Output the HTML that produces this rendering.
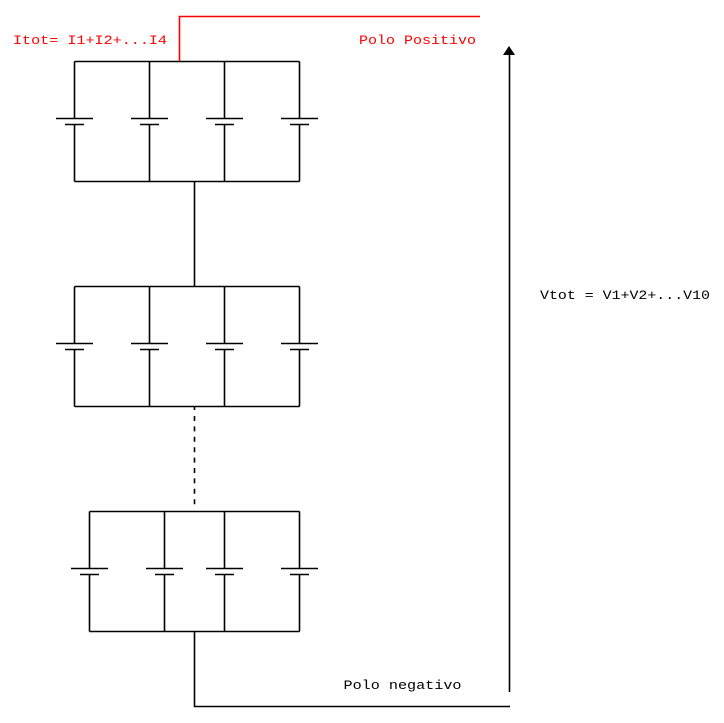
<!DOCTYPE html>
<html>
<head>
<meta charset="utf-8">
<style>
html,body{margin:0;padding:0;background:#fff}
svg{display:block}
text{font-family:"Liberation Mono",monospace;font-size:12.5px}
</style>
</head>
<body>
<svg width="724" height="723" viewBox="0 0 724 723" xmlns="http://www.w3.org/2000/svg">
<defs>
<g id="bat" fill="none" stroke="#000" stroke-width="1.6">
<path d="M0 0V57M0 63V120"/>
<path d="M-18.5 57H18.5M-9.5 63H9.5"/>
</g>
</defs>
<rect width="724" height="723" fill="#fff"/>
<path d="M74.5 61.5H299.5M74.5 181.5H299.5" stroke="#000" stroke-width="1.6" fill="none"/>
<use href="#bat" x="74.5" y="61.5"/><use href="#bat" x="149.5" y="61.5"/><use href="#bat" x="224.5" y="61.5"/><use href="#bat" x="299.5" y="61.5"/>
<path d="M194.5 181.5V286.5" stroke="#000" stroke-width="1.6" fill="none"/>
<path d="M74.5 286.5H299.5M74.5 406.5H299.5" stroke="#000" stroke-width="1.6" fill="none"/>
<use href="#bat" x="74.5" y="286.5"/><use href="#bat" x="149.5" y="286.5"/><use href="#bat" x="224.5" y="286.5"/><use href="#bat" x="299.5" y="286.5"/>
<path d="M194.5 407V410M194.5 416V506" stroke="#000" stroke-width="1.6" stroke-dasharray="5 5.4" fill="none"/>
<path d="M89.5 511.5H299.5M89.5 631.5H299.5" stroke="#000" stroke-width="1.6" fill="none"/>
<use href="#bat" x="89.5" y="511.5"/><use href="#bat" x="164.5" y="511.5"/><use href="#bat" x="224.5" y="511.5"/><use href="#bat" x="299.5" y="511.5"/>
<path d="M194.5 631.5V706.5H510" stroke="#000" stroke-width="1.6" fill="none"/>
<path d="M509.5 692V52" stroke="#000" stroke-width="1.6" fill="none"/>
<path d="M509 46L515 55H503Z" fill="#000"/>
<path d="M179.5 61V16.5H480" stroke="#f00" stroke-width="1.6" fill="none"/>
<text x="13" y="44" fill="#f00" textLength="154" lengthAdjust="spacingAndGlyphs">Itot= I1+I2+...I4</text>
<text x="359" y="44" fill="#f00" textLength="117" lengthAdjust="spacingAndGlyphs">Polo Positivo</text>
<text x="540" y="299" fill="#000" textLength="170" lengthAdjust="spacingAndGlyphs">Vtot = V1+V2+...V10</text>
<text x="343.5" y="689" fill="#000" textLength="118" lengthAdjust="spacingAndGlyphs">Polo negativo</text>
</svg>
</body>
</html>
